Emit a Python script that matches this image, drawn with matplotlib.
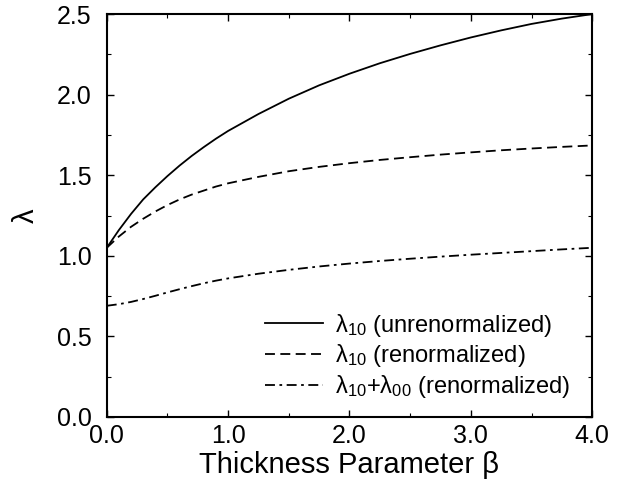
import matplotlib
matplotlib.use('Agg')
import matplotlib.pyplot as plt
from matplotlib.ticker import MultipleLocator, FormatStrFormatter

plt.rcParams['font.family'] = ['Liberation Sans', 'DejaVu Sans']
plt.rcParams['mathtext.fontset'] = 'custom'
plt.rcParams['mathtext.rm'] = 'Liberation Sans'
plt.rcParams['mathtext.it'] = 'Liberation Sans'

# Values
beta = [0.0, 0.1, 0.2, 0.3, 0.4, 0.5, 0.6, 0.7, 0.8, 0.9, 1.0, 1.25, 1.5,
        1.75, 2.0, 2.25, 2.5, 2.75, 3.0, 3.25, 3.5, 3.75, 4.0]
lam_unrenorm = [1.05, 1.16, 1.26, 1.35, 1.425, 1.495, 1.56, 1.62, 1.675, 1.727, 1.775,
                1.88, 1.975, 2.058, 2.13, 2.195, 2.253, 2.306, 2.355, 2.399, 2.439, 2.472, 2.50]
lam_renorm = [1.05, 1.12, 1.18, 1.23, 1.275, 1.315, 1.35, 1.38, 1.405, 1.43, 1.45,
              1.49, 1.525, 1.552, 1.575, 1.595, 1.612, 1.628, 1.642, 1.655, 1.666, 1.676, 1.685]
lam_sum = [0.69, 0.70, 0.714, 0.732, 0.752, 0.773, 0.793, 0.812, 0.83, 0.846, 0.86,
           0.889, 0.913, 0.934, 0.952, 0.968, 0.982, 0.995, 1.007, 1.018, 1.029, 1.04, 1.05]

labels = ['λ$_{10}$ (unrenormalized)',
          'λ$_{10}$ (renormalized)',
          'λ$_{10}$+λ$_{00}$ (renormalized)']

fig = plt.figure(figsize=(6.28, 4.86), dpi=100)
ax = fig.add_axes([0.170, 0.142, 0.773, 0.829])

ax.plot(beta, lam_unrenorm, color='black', lw=1.3, ls='-', label=labels[0])
ax.plot(beta, lam_renorm, color='black', lw=1.3, ls=(0, (5.5, 3)), label=labels[1])
ax.plot(beta, lam_sum, color='black', lw=1.3, ls=(0, (5.5, 2.5, 1.5, 2.5)), label=labels[2])

ax.set_xlim(0, 4)
ax.set_ylim(0, 2.5)
ax.xaxis.set_major_locator(MultipleLocator(1.0))
ax.xaxis.set_minor_locator(MultipleLocator(0.5))
ax.yaxis.set_major_locator(MultipleLocator(0.5))
ax.yaxis.set_minor_locator(MultipleLocator(0.25))
ax.xaxis.set_major_formatter(FormatStrFormatter('%.1f'))
ax.yaxis.set_major_formatter(FormatStrFormatter('%.1f'))
ax.tick_params(which='both', direction='in', top=True, right=True, labelsize=18)
ax.tick_params(which='major', length=5, width=1)
ax.tick_params(which='minor', length=3, width=0.8)
ax.tick_params(axis='x', pad=5)
ax.tick_params(axis='y', pad=11)
for s in ax.spines.values():
    s.set_linewidth(1.5)

ax.set_xlabel('Thickness Parameter β', fontsize=21, labelpad=2)
ax.set_ylabel('λ', fontsize=21, labelpad=12)

ax.legend(loc='lower right', bbox_to_anchor=(1.0, -0.01), frameon=False,
          fontsize=17, handlelength=2.45, labelspacing=0.15, handletextpad=0.55)

fig.savefig('out.png', dpi=100)
